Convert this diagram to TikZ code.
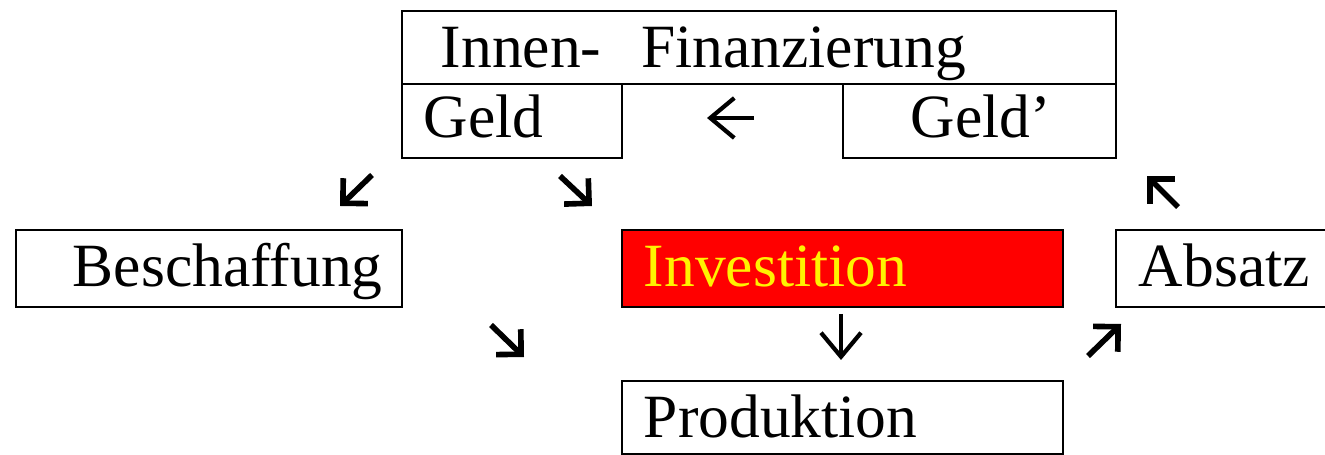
\documentclass[tikz,border=0pt]{standalone}
\usepackage{fontspec}
\setmainfont{Liberation Serif}
\usetikzlibrary{arrows.meta}
\tikzset{
    feld/.style={draw, line width=1.1pt, rectangle, inner sep=0pt, anchor=north west, align=left,
        text height=1.14cm, text depth=0.4cm, font=\fontsize{35}{42}\selectfont},
    pfeil/.style={line width=3.2pt, line cap=butt, -{Straight Barb[angle=90:0.5cm]}},
    duenn/.style={line width=2.4pt, -{Straight Barb[length=0.48cm, width=0.8cm]}}
}
\begin{document}
\begin{tikzpicture}[x=0.02cm, y=-0.02cm]
        \useasboundingbox (0,0) rectangle (1325,455);
        \clip (0,0) rectangle (1325,455);

        \node[feld, text width=14.28cm, text depth=0.32cm] (fin) at (401, 10) {\hspace*{0.78cm}Innen-\hspace{0.8cm}Finanzierung};
        \node[feld, text width=4.4cm, text height=1.08cm] (geld) at (401, 83) {\hspace*{0.44cm}Geld};
        \node[feld, text width=5.46cm, text height=1.08cm] (geld') at (842, 83) {\hspace*{1.36cm}Geld’};

        \node[feld, text width=7.72cm] (besch) at (15, 229) {\hspace*{1.14cm}Beschaffung};
        \node[feld, fill=red, text=yellow, text width=8.82cm] (inv) at (621, 229) {\hspace*{0.44cm}Investition};
        \node[feld, text width=4.4cm] (abs) at (1115, 229) {\hspace*{0.46cm}Absatz};
        \node[feld, text width=8.82cm, text depth=0.32cm] (prod) at (621, 380) {\hspace*{0.44cm}Produktion};

        \coordinate (s1) at (754, 118);  \coordinate (s1') at (707, 118);
        \coordinate (s2) at (372, 175);  \coordinate (s2') at (340, 206);
        \coordinate (s3) at (560, 176);  \coordinate (s3') at (592, 206);
        \coordinate (s4) at (1178, 207); \coordinate (s4') at (1147, 176);
        \coordinate (s5) at (491, 325);  \coordinate (s5') at (524, 357);
        \coordinate (s6) at (841, 314);  \coordinate (s6') at (841, 360);
        \coordinate (s7) at (1088, 356); \coordinate (s7') at (1121, 324);

        \draw[duenn] (s1) -- (s1');
        \draw[pfeil] (s2) -- (s2');
        \draw[pfeil] (s3) -- (s3');
        \draw[pfeil] (s4) -- (s4');
        \draw[pfeil] (s5) -- (s5');
        \draw[duenn] (s6) -- (s6');
        \draw[pfeil] (s7) -- (s7');
    \end{tikzpicture}
\end{document}
